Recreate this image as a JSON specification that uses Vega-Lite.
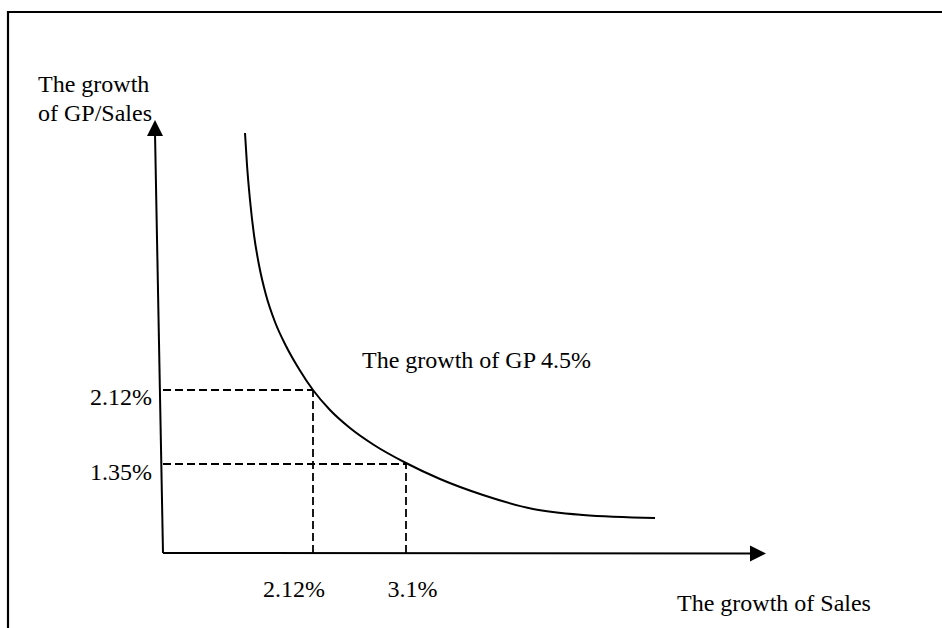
{
  "$schema": "https://vega.github.io/schema/vega-lite/v6.json",
  "width": 942,
  "height": 628,
  "autosize": {"type": "none"},
  "padding": 0,
  "background": "white",
  "config": {
    "view": {"stroke": null},
    "text": {"font": "Liberation Serif", "fontSize": 24, "color": "black", "baseline": "alphabetic"}
  },
  "datasets": {
    "frame": [
      {"x": -155, "y": -75, "i": 0},
      {"x": -155, "y": 541, "i": 1},
      {"x": 779, "y": 541, "i": 2}
    ],
    "axes": [
      {"x": 0, "y": 0, "x2": -8, "y2": 420},
      {"x": 0, "y": 0, "x2": 592, "y2": -0.5}
    ],
    "arrows": [
      {"x": -8, "y": 425, "dir": "up"},
      {"x": 595, "y": -0.5, "dir": "right"}
    ],
    "curve": [
      {"x": 82, "y": 420},
      {"x": 84, "y": 388},
      {"x": 87, "y": 353},
      {"x": 91, "y": 318},
      {"x": 96, "y": 288},
      {"x": 103, "y": 258},
      {"x": 112, "y": 231},
      {"x": 123, "y": 207},
      {"x": 136, "y": 184},
      {"x": 150, "y": 163},
      {"x": 167, "y": 143},
      {"x": 187, "y": 125},
      {"x": 211, "y": 108},
      {"x": 243, "y": 90},
      {"x": 277, "y": 74},
      {"x": 320, "y": 58},
      {"x": 370, "y": 44},
      {"x": 420, "y": 38},
      {"x": 492, "y": 35}
    ],
    "dashes": [
      {"x": 0, "y": 163, "x2": 150, "y2": 163},
      {"x": 150, "y": 0, "x2": 150, "y2": 163},
      {"x": 0, "y": 89, "x2": 243, "y2": 89},
      {"x": 243, "y": 0, "x2": 243, "y2": 89}
    ],
    "leftText": [
      {"label": "The growth", "x": -125, "y": 461},
      {"label": "of GP/Sales", "x": -125, "y": 432},
      {"label": "The growth of GP 4.5%", "x": 199, "y": 185},
      {"label": "The growth of Sales", "x": 514, "y": -58}
    ],
    "rightText": [
      {"label": "2.12%", "x": -11, "y": 148},
      {"label": "1.35%", "x": -11, "y": 73}
    ],
    "centerText": [
      {"label": "2.12%", "x": 131, "y": -44},
      {"label": "3.1%", "x": 249.5, "y": -44}
    ]
  },
  "encoding": {
    "x": {"field": "x", "type": "quantitative", "scale": {"domain": [-163, 779], "nice": false, "zero": false}, "axis": null},
    "y": {"field": "y", "type": "quantitative", "scale": {"domain": [-75, 553], "nice": false, "zero": false}, "axis": null}
  },
  "layer": [
    {
      "data": {"name": "frame"},
      "mark": {"type": "line", "color": "black", "strokeWidth": 2.2},
      "encoding": {"order": {"field": "i", "type": "quantitative"}}
    },
    {
      "data": {"name": "axes"},
      "mark": {"type": "rule", "color": "black", "strokeWidth": 2},
      "encoding": {
        "x2": {"field": "x2"},
        "y2": {"field": "y2"}
      }
    },
    {
      "data": {"name": "arrows"},
      "mark": {"type": "point", "filled": true, "color": "black", "opacity": 1, "size": 256},
      "encoding": {
        "shape": {"field": "dir", "type": "nominal", "scale": {"domain": ["up", "right"], "range": ["M0,-1L1,1L-1,1Z", "M1,0L-1,-1L-1,1Z"]}, "legend": null}
      }
    },
    {
      "data": {"name": "curve"},
      "mark": {"type": "line", "color": "black", "strokeWidth": 2, "interpolate": "monotone"}
    },
    {
      "data": {"name": "dashes"},
      "mark": {"type": "rule", "color": "black", "strokeWidth": 1.8, "strokeDash": [8, 4]},
      "encoding": {
        "x2": {"field": "x2"},
        "y2": {"field": "y2"}
      }
    },
    {
      "data": {"name": "leftText"},
      "mark": {"type": "text", "align": "left"},
      "encoding": {"text": {"field": "label"}}
    },
    {
      "data": {"name": "rightText"},
      "mark": {"type": "text", "align": "right"},
      "encoding": {"text": {"field": "label"}}
    },
    {
      "data": {"name": "centerText"},
      "mark": {"type": "text", "align": "center"},
      "encoding": {"text": {"field": "label"}}
    }
  ]
}
